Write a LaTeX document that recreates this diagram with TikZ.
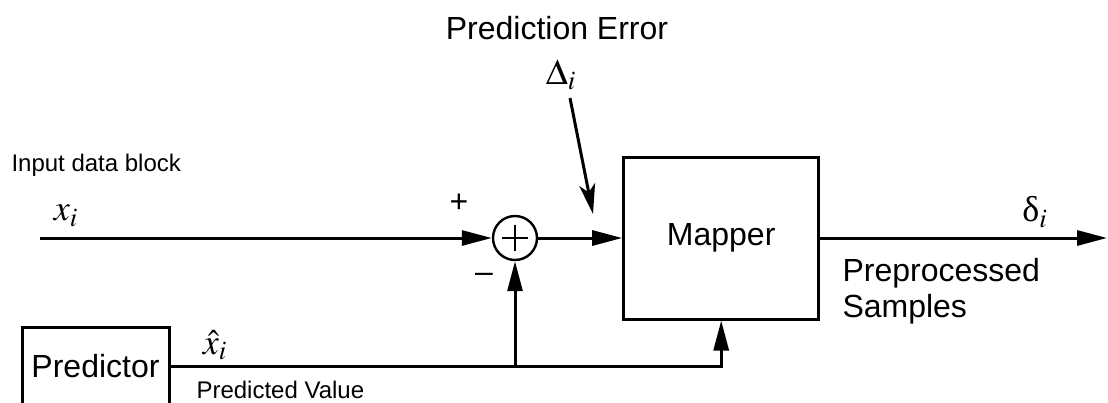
\documentclass[tikz,border=0pt]{standalone}
\usepackage{mathptmx}
\usepackage{fontspec}
\setmainfont{Liberation Sans}
\newfontfamily\greekfont{Liberation Serif}
\usetikzlibrary{positioning,arrows.meta,calc}
\newcommand{\lblfont}{\fontsize{16}{18}\selectfont}
\newcommand{\smallfont}{\fontsize{12}{14}\selectfont}

\begin{document}
\begin{tikzpicture}[
  x=0.5pt,y=-0.5pt,
  font=\lblfont,
  >={Triangle[length=15pt,width=7.5pt]},
  line width=1.5pt,
  % --- block styles ---
  blockb/.style  ={draw,line width=1.5pt,inner sep=0pt,align=center},
  sumc/.style    ={circle,draw,line width=1.2pt,minimum size=22pt,inner sep=0pt,
                   path picture={
                     \draw[line width=1.2pt]
                       ([xshift=-6.5pt]path picture bounding box.center) --
                       ([xshift=6.5pt]path picture bounding box.center)
                       ([yshift=-6.5pt]path picture bounding box.center) --
                       ([yshift=6.5pt]path picture bounding box.center);}},
  flow/.style    ={->},
  errflow/.style ={->,>={Stealth[length=15pt,width=8pt,inset=4pt]}},
  smalllbl/.style={font=\smallfont,inner sep=0pt},
  signlbl/.style ={font=\lblfont,inner sep=0pt},
  mathlbl/.style ={font=\fontsize{18}{20}\selectfont,inner sep=0pt},
]
\useasboundingbox (0,0) rectangle (1108,402);
\clip (0,0) rectangle (1108,402);

% ============================ blocks ============================
\node[sumc] (sum) at (515,238) {};
\node[blockb,minimum width=97.5pt,minimum height=81pt,right=42pt of sum] (mapper) {Mapper};
\node[blockb,minimum width=73.5pt,minimum height=39pt] (pred) at (95.5,366) {Predictor};

% ============================ labels ============================
\node[smalllbl,anchor=west] (inlbl) at (10,165) {Input data block};
\node[inner sep=0pt] (errlbl) at (557,28) {Prediction Error};
\node[mathlbl] (delta) at (561,75) {$\Delta_i$};
\node[mathlbl] (xlbl) at (66,216) {$x_i$};
\node[signlbl] (plus) at (459,203) {+};
\node[signlbl] (minus) at (484,278) {\textendash};
\node[mathlbl] (xhat) at (215,345) {$\hat{x}_i$};
\node[smalllbl,anchor=west] (predlbl) at (195,390) {Predicted Value};
\node[mathlbl] (dlbl) at (1035,212) {{\greekfont δ}$_i$};
\node[align=left,anchor=north west,inner sep=0pt] (outlbl) at (841,257) {Preprocessed\\Samples};

% ============================ free ends ============================
\coordinate (xin)     at (40,238);
\coordinate (yout)    at (1107,238);
\coordinate (errtail) at (570,98);
\coordinate (errtip)  at (593,214);

% ============================ forward flow ============================
\draw[flow] (xin)         -- (sum.west);
\draw[flow] (sum.east)    -- (mapper.west);
\draw[flow] (mapper.east) -- (yout);
\draw[errflow] (errtail)  -- (errtip);

% ============================ predictor feed ============================
\draw[flow] (pred.east) -- (pred.east -| mapper.south) -- (mapper.south);
\draw[flow] (pred.east -| sum.south) -- (sum.south);

\end{tikzpicture}
\end{document}
